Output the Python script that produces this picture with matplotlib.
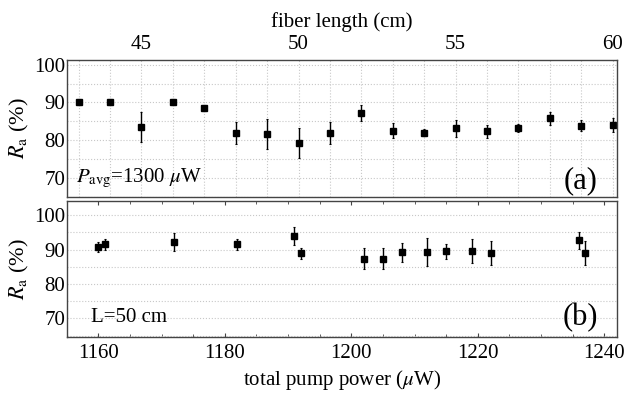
import numpy as np
import matplotlib
matplotlib.use("Agg")
import matplotlib.pyplot as plt
from matplotlib.ticker import MultipleLocator

plt.rcParams['font.family'] = ['Liberation Serif', 'DejaVu Serif']
plt.rcParams['mathtext.fontset'] = 'stix'

# panel (a): fixed pump power, varying fiber length
length = np.arange(43, 61)
ra_a = np.array([90.2, 90.2, 83.4, 90.2, 88.5, 82.0, 81.6, 79.2, 82.0,
                 87.3, 82.5, 82.0, 83.1, 82.3, 83.2, 85.8, 83.8, 84.0])
err_a = np.array([0.8, 0.8, 4.0, 0.8, 0.7, 2.9, 4.0, 4.0, 2.9,
                  2.1, 2.0, 1.0, 2.2, 1.7, 1.0, 1.7, 1.5, 1.8])

# panel (b): fixed length, varying pump power
power = np.array([1160, 1161, 1172, 1182, 1191, 1192, 1202, 1205, 1208,
                  1212, 1215, 1219, 1222, 1236, 1237])
ra_b = np.array([90.8, 91.5, 92.2, 91.5, 93.9, 88.9, 87.4, 87.4, 89.2,
                 89.3, 89.5, 89.5, 88.9, 92.7, 88.9])
err_b = np.array([1.5, 1.6, 2.7, 1.7, 2.6, 1.5, 3.0, 3.0, 2.7,
                  4.1, 2.1, 3.5, 3.5, 2.5, 3.5])

fs = 15

fig = plt.figure(figsize=(6.28, 3.93), dpi=100)
ax1 = fig.add_axes([0.1062, 0.4995, 0.8763, 0.3491])
ax2 = fig.add_axes([0.1062, 0.1433, 0.8763, 0.3452])

frame = '#444444'
grid_kw = dict(color='#c8c8c8', linestyle=':', linewidth=0.8)

for ax in (ax1, ax2):
    for s in ax.spines.values():
        s.set_color(frame)
        s.set_linewidth(1.0)
    ax.set_yticks([70, 80, 90, 100])
    ax.yaxis.set_minor_locator(MultipleLocator(5))
    ax.grid(True, which='both', axis='y', **grid_kw)
    ax.tick_params(axis='y', which='both', length=0, labelsize=fs, pad=1)
    ax.set_ylabel(r'$R_{\mathrm{a}}$ (%)', fontsize=fs + 1, labelpad=2)
    ax.set_axisbelow(True)

ax1.errorbar(length, ra_a, yerr=err_a, fmt='s', color='black', ms=5,
             elinewidth=1.0, capsize=1, capthick=0.8)
ax1.set_xlim(42.62, 60.14)
ax1.set_ylim(65, 101.4)
ax1.xaxis.tick_top()
ax1.xaxis.set_label_position('top')
ax1.set_xticks([45, 50, 55, 60])
ax1.xaxis.set_minor_locator(MultipleLocator(1))
ax1.grid(True, which='both', axis='x', **grid_kw)
ax1.tick_params(axis='x', which='both', direction='in', length=0,
                labelsize=fs, pad=4)
ax1.set_xlabel('fiber length (cm)', fontsize=fs, labelpad=6)
ax1.text(0.017, 0.13, r'$P_{\mathrm{avg}}$=1300 $\mu$W', transform=ax1.transAxes,
         fontsize=fs, va='center', ha='left')
ax1.text(0.965, 0.12, '(a)', transform=ax1.transAxes, fontsize=22,
         va='center', ha='right')

ax2.errorbar(power, ra_b, yerr=err_b, fmt='s', color='black', ms=5,
             elinewidth=1.0, capsize=1, capthick=0.8)
ax2.set_xlim(1155, 1242)
ax2.set_ylim(64.7, 104.1)
ax2.set_xticks([1160, 1180, 1200, 1220, 1240])
ax2.xaxis.set_minor_locator(MultipleLocator(5))
ax2.tick_params(axis='x', which='both', direction='in', top=True,
                color=frame, labelsize=fs, pad=5)
ax2.tick_params(axis='x', which='major', length=3)
ax2.tick_params(axis='x', which='minor', length=2.5)
ax2.set_xlabel(r'total pump power ($\mu$W)', fontsize=fs, labelpad=4)
ax2.text(0.044, 0.14, 'L=50 cm', transform=ax2.transAxes,
         fontsize=fs, va='center', ha='left')
ax2.text(0.965, 0.14, '(b)', transform=ax2.transAxes, fontsize=22,
         va='center', ha='right')

fig.savefig('out.png', dpi=100)
